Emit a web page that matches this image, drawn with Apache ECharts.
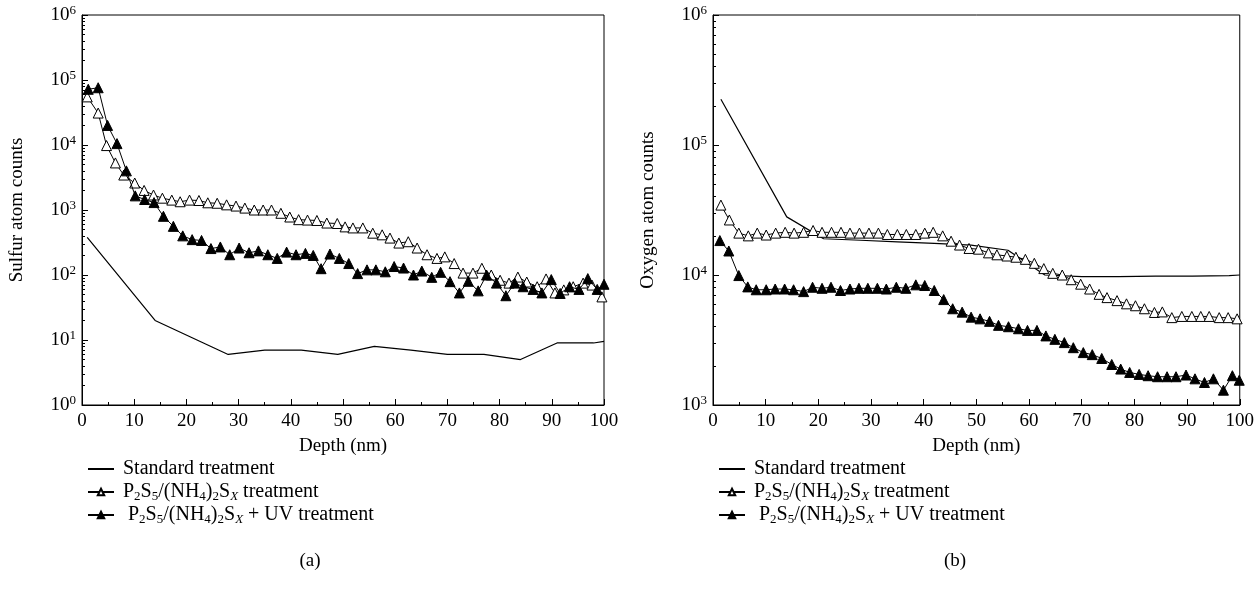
<!DOCTYPE html>
<html>
<head>
<meta charset="utf-8">
<script src="https://cdn.jsdelivr.net/npm/echarts@6/dist/echarts.min.js"></script>
<style>
  html, body { margin: 0; padding: 0; background: #fff; }
  #main { width: 1257px; height: 608px; }
</style>
</head>
<body>
<div id="main"></div>
<script>
// (a) sulfur profile
var depthStdA = [1, 14, 28, 35, 42, 49, 56, 63, 70, 77, 84, 91, 98, 100];
var stdA = [380, 20, 6, 7, 7, 6, 8, 7, 6, 6, 5, 9, 9, 9.5];

var depthOpenA = [1.0, 3.1, 4.7, 6.4, 8.0, 10.1, 11.9, 13.7, 15.4, 17.2, 18.8, 20.6, 22.4, 24.1, 25.9, 27.7, 29.5, 31.2, 33.0, 34.7,
  36.3, 38.1, 39.8, 41.5, 43.2, 45.0, 46.9, 48.9, 50.4, 51.9, 53.8, 55.7, 57.5, 59.0, 60.7, 62.5, 64.2, 66.1, 68.0, 69.5,
  71.3, 73.0, 74.9, 76.6, 78.4, 80.1, 81.8, 83.5, 85.2, 87.2, 88.9, 90.6, 92.3, 94.1, 96.0, 97.7, 99.6];
var openA = [55000, 31000, 9800, 5300, 3450, 2600, 2000, 1700, 1520, 1420, 1340, 1420, 1400, 1290, 1270, 1200, 1150, 1070, 1000, 1000,
  1000, 890, 780, 710, 700, 690, 630, 620, 550, 530, 530, 440, 415, 370, 310, 325, 260, 205, 180, 190,
  150, 107, 107, 127, 100, 83, 75, 93, 78, 66, 87, 53, 59, 66, 75, 70, 46];

var depthFillA = [1.2, 3.1, 4.9, 6.7, 8.5, 10.2, 12.0, 13.8, 15.6, 17.5, 19.3, 21.1, 22.9, 24.7, 26.5, 28.3, 30.1, 32.0, 33.8, 35.6,
  37.4, 39.2, 41.0, 42.8, 44.3, 45.8, 47.5, 49.3, 51.1, 52.8, 54.6, 56.3, 58.1, 59.8, 61.6, 63.5, 65.1, 67.0, 68.7, 70.5,
  72.3, 74.0, 75.9, 77.5, 79.4, 81.2, 82.9, 84.5, 86.4, 88.1, 89.9, 91.6, 93.4, 95.2, 96.9, 98.7, 100];
var fillA = [72000, 76000, 20000, 10500, 4000, 1650, 1450, 1300, 800, 560, 400, 350, 340, 255, 270, 205, 260, 220, 235, 205,
  180, 225, 205, 215, 200, 125, 210, 180, 150, 105, 120, 120, 112, 135, 128, 100, 115, 92, 110, 79,
  53, 80, 57, 100, 75, 48, 75, 66, 60, 53, 85, 52, 66, 60, 88, 60, 72];

// (b) oxygen profile
var depthStdB = [1.5, 14, 21, 28, 35, 42, 49, 56, 63, 70, 77, 84, 91, 98, 100];
var stdB = [225000, 28000, 19000, 18500, 18000, 17500, 17000, 15500, 10000, 9700, 9700, 9800, 9800, 9900, 10000];

var depthOpenB = [1.5, 3.1, 4.9, 6.7, 8.4, 10.1, 11.9, 13.7, 15.4, 17.2, 19.0, 20.7, 22.5, 24.3, 26.0, 27.8, 29.6, 31.4, 33.1, 35.0,
  36.7, 38.5, 40.2, 41.8, 43.6, 45.2, 46.8, 48.6, 50.4, 52.3, 53.9, 55.8, 57.5, 59.3, 61.0, 62.8, 64.5, 66.3, 68.0, 69.8,
  71.5, 73.3, 74.8, 76.7, 78.5, 80.2, 81.9, 83.8, 85.3, 87.1, 89.0, 90.9, 92.6, 94.2, 96.1, 97.8, 99.5];
var openB = [34500, 26500, 21000, 20000, 21000, 20300, 21000, 21300, 21000, 21300, 22000, 21300, 21300, 21300, 21000, 21000, 21000, 21000, 20500, 20500,
  20500, 20500, 21000, 21300, 20000, 18200, 17000, 16000, 15800, 14800, 14300, 14000, 13700, 13200, 12300, 11200, 10300, 10000, 9200, 8500,
  7800, 7100, 6700, 6350, 6000, 5800, 5500, 5150, 5200, 4700, 4800, 4800, 4800, 4800, 4700, 4700, 4600];

var depthFillB = [1.3, 3.0, 4.9, 6.6, 8.2, 10.1, 11.8, 13.6, 15.3, 17.2, 18.9, 20.7, 22.4, 24.2, 26.0, 27.7, 29.4, 31.2, 32.9, 34.8,
  36.6, 38.5, 40.2, 42.0, 43.8, 45.5, 47.3, 49.0, 50.7, 52.5, 54.2, 56.1, 58.0, 59.7, 61.5, 63.2, 64.9, 66.7, 68.4, 70.3,
  72.0, 73.8, 75.7, 77.4, 79.1, 80.9, 82.6, 84.4, 86.2, 87.9, 89.8, 91.5, 93.3, 95.0, 96.9, 98.6, 99.9];
var fillB = [18400, 15300, 9900, 8100, 7700, 7700, 7800, 7800, 7700, 7450, 8050, 7900, 8050, 7600, 7800, 7900, 7900, 7900, 7800, 8050,
  7900, 8400, 8300, 7600, 6470, 5500, 5180, 4740, 4600, 4400, 4100, 4000, 3860, 3750, 3750, 3400, 3200, 3020, 2760, 2530,
  2440, 2280, 2050, 1890, 1780, 1720, 1680, 1650, 1650, 1650, 1700, 1590, 1490, 1590, 1300, 1680, 1550];

// ticks
var xTicks = [0, 10, 20, 30, 40, 50, 60, 70, 80, 90, 100];
var expA = [0, 1, 2, 3, 4, 5, 6];
var expB = [3, 4, 5, 6];
var minorMult = [2, 3, 4, 5, 6, 7, 8, 9];

var names = ['Standard treatment', 'P2S5/(NH4)2SX treatment', 'P2S5/(NH4)2SX + UV treatment'];
var richNames = {};
richNames[names[0]] = 'Standard treatment';
richNames[names[1]] = 'P{sub|2}S{sub|5}/(NH{sub|4}){sub|2}S{subi|X} treatment';
richNames[names[2]] = ' P{sub|2}S{sub|5}/(NH{sub|4}){sub|2}S{subi|X} + UV treatment';

var FONT = 'Liberation Serif';

function pairs(xs, ys) {
  return xs.map(function (x, i) { return [x, ys[i]]; });
}

function minorTicks(exps) {
  var out = [];
  for (var i = 0; i < exps.length - 1; i++) {
    for (var j = 0; j < minorMult.length; j++) {
      out.push(exps[i] + Math.log10(minorMult[j]));
    }
  }
  return out;
}

function xAxisOf(grid) {
  return {
    gridIndex: grid, type: 'value', min: 0, max: 100, interval: 10,
    axisLine: { lineStyle: { color: '#000', width: 1 } },
    axisTick: { inside: true, length: 6, lineStyle: { color: '#000' }, customValues: xTicks },
    minorTick: { show: true, splitNumber: 2, length: 3, lineStyle: { color: '#000' } },
    axisLabel: { color: '#000', fontFamily: FONT, fontSize: 19, margin: 7, customValues: xTicks },
    splitLine: { show: false },
    name: 'Depth (nm)', nameLocation: 'middle', nameGap: 32,
    nameTextStyle: { color: '#000', fontFamily: FONT, fontSize: 19 }
  };
}

function logAxisOf(grid, exps, title) {
  return {
    gridIndex: grid, type: 'log', logBase: 10, position: 'left',
    min: Math.pow(10, exps[0]), max: Math.pow(10, exps[exps.length - 1]),
    axisLine: { lineStyle: { color: '#000', width: 1 } },
    axisTick: { inside: true, length: 6, lineStyle: { color: '#000' } },
    axisLabel: {
      color: '#000', fontFamily: FONT, fontSize: 19, margin: 6, lineHeight: 22,
      formatter: function (v) { return '10{sup|' + Math.round(Math.log10(v)) + '}'; },
      rich: { sup: { fontFamily: FONT, fontSize: 13, lineHeight: 12, verticalAlign: 'top', color: '#000' } }
    },
    splitLine: { show: false },
    name: title, nameLocation: 'middle', nameGap: 55,
    nameTextStyle: { color: '#000', fontFamily: FONT, fontSize: 19 }
  };
}

// second y axis on each grid, only for the log minor ticks (2..9 per decade)
function minorAxisOf(grid, exps) {
  return {
    gridIndex: grid, type: 'value', position: 'left', offset: 0,
    min: exps[0], max: exps[exps.length - 1],
    axisLine: { show: false },
    axisTick: { show: true, inside: true, length: 3, lineStyle: { color: '#000' }, customValues: minorTicks(exps) },
    axisLabel: { show: false },
    splitLine: { show: false }
  };
}

function lineSeries(name, axis, xs, ys, kind) {
  var s = {
    name: name, type: 'line', xAxisIndex: axis, yAxisIndex: axis,
    data: pairs(xs, ys), animation: false,
    lineStyle: { color: '#000', width: 1 },
    itemStyle: { color: '#000' }
  };
  if (kind === 'plain') {
    s.symbol = 'none';
    s.lineStyle.width = 1.2;
  } else {
    s.symbol = 'triangle';
    s.symbolSize = 10;
    s.z = kind === 'open' ? 3 : 4;
    s.itemStyle = kind === 'open'
      ? { color: '#fff', borderColor: '#000', borderWidth: 1 }
      : { color: '#000', borderColor: '#000', borderWidth: 1 };
  }
  return s;
}

function legendOf(left) {
  return {
    orient: 'vertical', left: left, top: 453, itemGap: 1,
    itemWidth: 26, itemHeight: 8, selectedMode: false,
    data: [
      { name: names[0], itemStyle: { color: 'rgba(0,0,0,0)', borderWidth: 0 } },
      names[1],
      names[2]
    ],
    formatter: function (n) { return richNames[n]; },
    textStyle: {
      color: '#000', fontFamily: FONT, fontSize: 20, lineHeight: 22, padding: [0, 0, 0, 4],
      rich: {
        sub: { fontFamily: FONT, fontSize: 13, lineHeight: 13, verticalAlign: 'bottom', color: '#000' },
        subi: { fontFamily: FONT, fontSize: 13, lineHeight: 13, verticalAlign: 'bottom', fontStyle: 'italic', color: '#000' }
      }
    }
  };
}

var myChart = echarts.init(document.getElementById('main'));
var option = {
  backgroundColor: '#fff',
  animation: false,
  grid: [
    { left: 82, top: 15, width: 522, height: 390, show: true, borderColor: '#000', borderWidth: 1 },
    { left: 713, top: 15, width: 529, height: 390, show: true, borderColor: '#000', borderWidth: 1 }
  ],
  xAxis: [xAxisOf(0), xAxisOf(1)],
  yAxis: [
    logAxisOf(0, expA, 'Sulfur atom counts'),
    logAxisOf(1, expB, 'Oxygen atom counts'),
    minorAxisOf(0, expA),
    minorAxisOf(1, expB)
  ],
  legend: [legendOf(82), legendOf(713)],
  series: [
    lineSeries(names[0], 0, depthStdA, stdA, 'plain'),
    lineSeries(names[1], 0, depthOpenA, openA, 'open'),
    lineSeries(names[2], 0, depthFillA, fillA, 'filled'),
    lineSeries(names[0], 1, depthStdB, stdB, 'plain'),
    lineSeries(names[1], 1, depthOpenB, openB, 'open'),
    lineSeries(names[2], 1, depthFillB, fillB, 'filled')
  ],
  graphic: [
    { type: 'text', x: 310, y: 561, style: { text: '(a)', align: 'center', verticalAlign: 'middle', fontFamily: FONT, fontSize: 19, fill: '#000' } },
    { type: 'text', x: 955, y: 561, style: { text: '(b)', align: 'center', verticalAlign: 'middle', fontFamily: FONT, fontSize: 19, fill: '#000' } }
  ]
};
myChart.setOption(option);
</script>
</body>
</html>
